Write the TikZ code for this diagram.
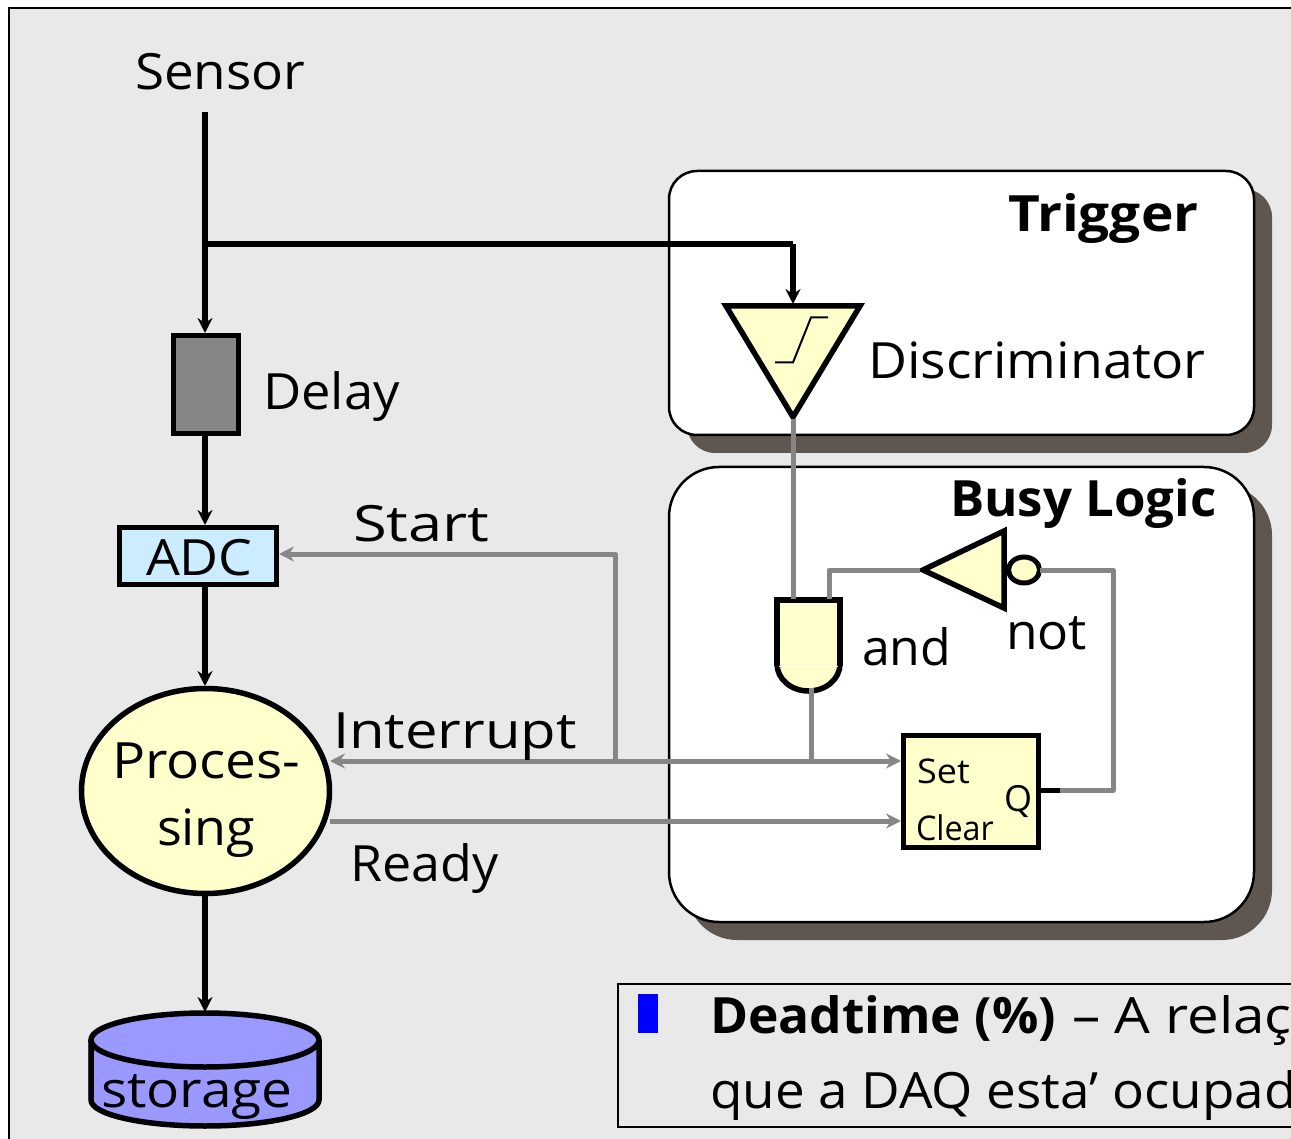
\documentclass[tikz,border=0pt]{standalone}
\usepackage{graphicx}
\usepackage{fontspec}
\setmainfont{Open Sans}
\usetikzlibrary{arrows.meta,shapes.geometric}
\definecolor{bgc}{HTML}{E9E9E9}
\definecolor{shadowc}{HTML}{5F574F}
\definecolor{wire}{HTML}{868686}
\definecolor{gatec}{HTML}{FFFFCC}
\definecolor{adcc}{HTML}{CCECFF}
\definecolor{storec}{HTML}{9999FF}
\definecolor{delayc}{HTML}{868686}
\newcommand{\sx}[2]{\scalebox{#1}[1]{#2}}
\tikzset{
  lbl/.style={anchor=base west,inner sep=0pt,outer sep=0pt,text=black,font=\fontsize{#1}{#1}\selectfont},
  lblb/.style={anchor=base west,inner sep=0pt,outer sep=0pt,text=black,font=\fontsize{#1}{#1}\selectfont\bfseries},
  panel/.style={draw=black,line width=2.5pt,fill=white},
  sig/.style={draw=black,line width=5.5pt},
  gry/.style={draw=wire,line width=5pt},
  blk/.style={sig,-{Stealth[length=15pt,width=15pt,inset=5pt]}},
  gra/.style={gry,-{Stealth[length=15pt,width=15pt,inset=5pt]}},
  gate/.style={draw=black,line width=5.5pt,fill=gatec,line join=miter},
}
\begin{document}
\begin{tikzpicture}[x=1pt,y=-1pt]
\useasboundingbox (0,0) rectangle (1291,1139);
\clip (0,0) rectangle (1291,1139);
\fill[white] (0,0) rectangle (1291,1139);
\draw[black,line width=2.5pt,fill=bgc] (9,8) rectangle (1320,1170);

% panels
\fill[shadowc,rounded corners=28pt] (687,189) rectangle (1272,453);
\draw[panel,rounded corners=28pt] (669,171) rectangle (1254,435);
\fill[shadowc,rounded corners=50pt] (687,485) rectangle (1272,940);
\draw[panel,rounded corners=50pt] (669,467) rectangle (1254,922);

% shapes as named coordinates
\coordinate (sensorIn) at (205,112);
\coordinate (branch) at (205,244);
\coordinate (corner) at (793,244);
\coordinate (discTop) at (793,304);
\coordinate (discApex) at (793,419);
\coordinate (andTopA) at (793,599);
\coordinate (andTopB) at (829,599);
\coordinate (andOut) at (811,688);
\coordinate (andJoin) at (811,761);
\coordinate (startJoin) at (615,761);
\coordinate (startCorner) at (615,554);
\coordinate (notCorner) at (829,570);
\coordinate (notIn) at (920,570);
\coordinate (qa) at (1041,790);
\coordinate (qb) at (1060,790);
\coordinate (qc) at (1113,790);
\coordinate (qd) at (1113,570);
\coordinate (bubbleR) at (1040,570);

% discriminator
\draw[gate] (726,306) -- (860,306) -- (793,417) -- cycle;
\draw[black,line width=2pt] (775,362.5) -- (793,362.5) -- (811,317.5) -- (828,317.5);

% and gate
\fill[gatec] (777,600) -- (840,600) -- (840,666) arc[start angle=0,end angle=180,x radius=31.5,y radius=25] -- cycle;
\draw[black,line width=5.5pt] (777,666) -- (777,600) -- (840,600) -- (840,666);
\draw[black,line width=5.5pt] (840,664) arc[start angle=0,end angle=180,x radius=31.5,y radius=27];
\draw[white,line width=1pt] (779,666) -- (838,666);

% not gate
\draw[gate] (923,570) -- (1004,531) -- (1004,608) -- cycle;
\node[draw=black,line width=5pt,fill=gatec,ellipse,minimum width=31pt,minimum height=26pt,inner sep=0pt,outer sep=2pt] (bubble) at (1024,570) {};

% nodes
\node[draw=black,line width=5.5pt,fill=gatec,minimum width=135pt,minimum height=112pt,inner sep=0pt,outer sep=2.5pt] (latch) at (971,791.5) {};
\node[draw=black,line width=5.5pt,fill=delayc,minimum width=65pt,minimum height=98pt,inner sep=0pt,outer sep=2.5pt] (delay) at (206,384.5) {};
\node[draw=black,line width=5.5pt,fill=adcc,minimum width=157pt,minimum height=57pt,inner sep=0pt,outer sep=2.5pt] (adc) at (198,556) {};
\node[draw=black,line width=5.5pt,fill=gatec,ellipse,minimum width=248pt,minimum height=205pt,inner sep=0pt,outer sep=2.5pt] (proc) at (205.5,791) {};

% storage
\fill[storec] (88,1040) rectangle (322,1100);
\draw[black,line width=5.5pt,fill=storec] (91,1040) -- (91,1100) arc[start angle=180,end angle=0,x radius=114,y radius=26] -- (319,1040);
\draw[black,line width=5.5pt,fill=storec] (205,1040) ellipse[x radius=114,y radius=27];
\coordinate (storeTop) at (205,1012);

% black wires
\draw[blk] (sensorIn) -- (delay.north -| sensorIn);
\draw[sig] (branch) -- (corner);
\draw[blk] (corner) -- (discTop);
\draw[blk] (delay.south -| sensorIn) -- (adc.north -| sensorIn);
\draw[blk] (adc.south -| sensorIn) -- (proc.north -| sensorIn);
\draw[blk] (proc.south -| sensorIn) -- (storeTop);
\draw[black,line width=5pt] (qa) -- (qb);

% grey wires
\draw[gry] (discApex) -- (andTopA);
\draw[gry,line join=round] (notIn) -- (notCorner) -- (andTopB);
\draw[gry] (andOut) -- (andJoin);
\draw[gra,line join=round] (startJoin) -- (startCorner) -- (adc.east |- startCorner);
\draw[gra,{Stealth[length=15pt,width=15pt,inset=5pt]}-{Stealth[length=15pt,width=15pt,inset=5pt]}] (330,761) -- (latch.west |- andJoin);
\draw[gra] (330,821) -- (latch.west |- 330,821);
\draw[gry,line join=round] (qb) -- (qc) -- (qd) -- (bubbleR);

% labels
\node[lbl=50] (tSensor) at (135,90) {\sx{1.06}{Sensor}};
\node[lbl=50] (tDelay) at (263,410) {\sx{1.05}{Delay}};
\node[lbl=50] (tADC) at (146,575) {\sx{1.07}{ADC}};
\node[lbl=50] (tStart) at (353,541) {\sx{1.23}{Start}};
\node[lbl=50] (tInterrupt) at (333,748) {\sx{1.16}{Interrupt}};
\node[lbl=50] (tReady) at (350,881) {\sx{1.04}{Ready}};
\node[lbl=50] (tProc1) at (112,778) {\sx{1.1}{Proces-}};
\node[lbl=50] (tProc2) at (157,845) {\sx{1.04}{sing}};
\node[lbl=50] (tStorage) at (101,1107) {\sx{1.1}{storage}};
\node[lblb=50] (tTrigger) at (1008,232) {\sx{1.1}{Trigger}};
\node[lbl=50] (tDisc) at (868,379) {\sx{1.07}{Discriminator}};
\node[lblb=50] (tBusy) at (950,516) {\sx{1.02}{Busy Logic}};
\node[lbl=50] (tAnd) at (862,665) {and};
\node[lbl=50] (tNot) at (1006,649) {\sx{1.03}{not}};
\node[lbl=34] (tSet) at (917,783) {\sx{1.06}{Set}};
\node[lbl=34] (tClear) at (916,840) {\sx{.95}{Clear}};
\node[lbl=36] (tQ) at (1004,811) {Q};

% deadtime box
\draw[black,line width=2.5pt] (618,984) rectangle (1320,1127);
\fill[blue] (638,994) rectangle (658,1033);
\node[lblb=50] (tDead) at (710,1033) {\sx{1.03}{Deadtime (\%)}};
\node[lbl=50] (tDead2) at (1072,1033) {\sx{1.13}{– A relaç}};
\node[lbl=50] (tDead3) at (710,1108) {\sx{1.06}{que a DAQ esta' ocupad}};
\end{tikzpicture}
\end{document}
